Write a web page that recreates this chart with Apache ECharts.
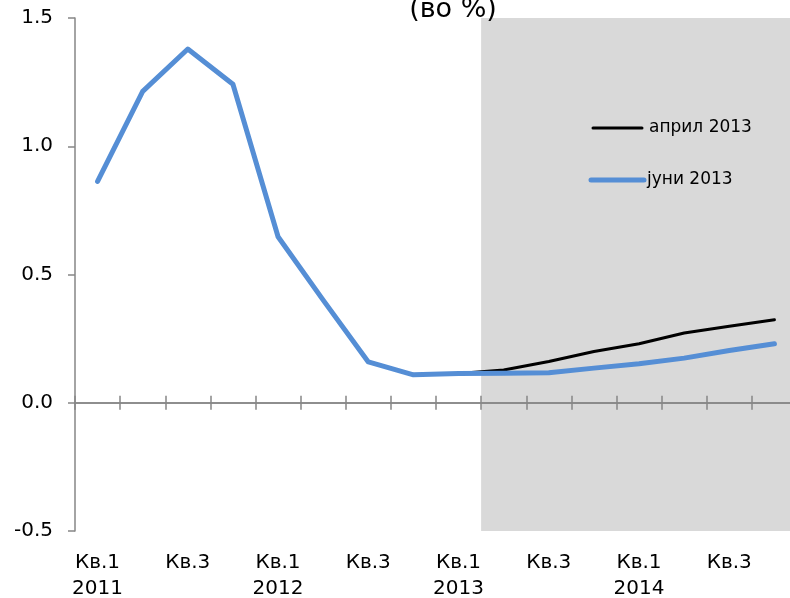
<!DOCTYPE html>
<html>
<head>
<meta charset="utf-8">
<script src="https://cdn.jsdelivr.net/npm/echarts@6/dist/echarts.min.js"></script>
<style>
  html, body { margin: 0; padding: 0; background: #fff; }
  #chart { width: 790px; height: 598px; }
</style>
</head>
<body>
<div id="chart"></div>
<script>
// Quarterly axis, 2011 Q1 .. 2014 Q4
const quarterLabels = [
  'Кв.1\n2011', 'Кв.2', 'Кв.3', 'Кв.4',
  'Кв.1\n2012', 'Кв.2', 'Кв.3', 'Кв.4',
  'Кв.1\n2013', 'Кв.2', 'Кв.3', 'Кв.4',
  'Кв.1\n2014', 'Кв.2', 'Кв.3', 'Кв.4'
];

// Projection rounds (%)
const april2013 = [0.863, 1.214, 1.379, 1.242, 0.647, 0.40, 0.159, 0.109,
                   0.114, 0.128, 0.161, 0.200, 0.230, 0.272, 0.298, 0.324];
const june2013  = [0.863, 1.214, 1.379, 1.242, 0.647, 0.40, 0.159, 0.109,
                   0.114, 0.115, 0.117, 0.135, 0.152, 0.174, 0.204, 0.230];

const seriesNames = ['април 2013', 'јуни 2013'];
const yTicks = { min: -0.5, max: 1.5, step: 0.5 };

// First projected quarter (shaded to the end of the axis)
const forecastFrom = 9;

const FONT = 'DejaVu Sans';
const AXIS_GREY = '#868686';
const BLUE = '#558ED5';
const BLACK = '#000000';

const chart = echarts.init(document.getElementById('chart'), null, { renderer: 'canvas' });

const baseCat = {
  type: 'category',
  data: quarterLabels,
  boundaryGap: true,
  gridIndex: 0
};

const tickStyle = { color: AXIS_GREY, width: 1.5 };

// Legend keys drawn as short line samples with their labels
function legendItem(name, color, width, x0, x1, y, tx) {
  return [
    {
      type: 'line',
      z: 10,
      shape: { x1: x0, y1: y, x2: x1, y2: y },
      style: { stroke: color, lineWidth: width, lineCap: 'round' }
    },
    {
      type: 'text',
      z: 10,
      x: tx,
      y: y,
      style: {
        text: name,
        fontFamily: FONT,
        fontSize: 17,
        fill: '#000',
        align: 'left',
        verticalAlign: 'middle'
      }
    }
  ];
}

chart.setOption({
  animation: false,
  backgroundColor: '#fff',
  grid: {
    left: 75, top: 18, width: 722, height: 513,
    containLabel: false,
    outerBoundsMode: 'none'
  },
  xAxis: [
    Object.assign({}, baseCat, {
      position: 'bottom',
      axisLine: { show: false, onZero: false },
      axisTick: { show: false },
      axisLabel: {
        interval: 1,
        margin: 19,
        fontFamily: FONT,
        fontSize: 20,
        lineHeight: 26,
        color: '#000'
      }
    }),
    Object.assign({}, baseCat, {
      position: 'bottom',
      z: 5,
      axisLine: { show: true, onZero: true, onZeroAxisIndex: 0, lineStyle: tickStyle },
      axisTick: { show: true, inside: true, interval: 0, length: 7, lineStyle: tickStyle },
      axisLabel: { show: false }
    }),
    Object.assign({}, baseCat, {
      position: 'bottom',
      z: 5,
      axisLine: { show: true, onZero: true, onZeroAxisIndex: 0, lineStyle: tickStyle },
      axisTick: { show: true, inside: false, interval: 0, length: 7, lineStyle: tickStyle },
      axisLabel: { show: false }
    }),
    {
      type: 'value',
      gridIndex: 0,
      min: 0,
      max: quarterLabels.length,
      show: false
    }
  ],
  yAxis: {
    type: 'value',
    z: 5,
    min: yTicks.min,
    max: yTicks.max,
    interval: yTicks.step,
    axisLine: { show: true, onZero: false, lineStyle: tickStyle },
    axisTick: { show: true, inside: false, length: 7, lineStyle: tickStyle },
    splitLine: { show: false },
    axisLabel: {
      margin: 22,
      fontFamily: FONT,
      fontSize: 20,
      color: '#000',
      formatter: v => v.toFixed(1)
    }
  },
  graphic: [
    {
      type: 'text',
      x: 453,
      y: 23,
      z: 10,
      style: {
        text: '(во %)',
        fontFamily: FONT,
        fontSize: 27,
        fill: '#000',
        align: 'center',
        verticalAlign: 'bottom'
      }
    }
  ].concat(
    legendItem(seriesNames[0], BLACK, 3, 593, 642, 128, 649),
    legendItem(seriesNames[1], BLUE, 5, 591, 644, 180, 647)
  ),
  series: [
    {
      // projection period band
      type: 'line',
      xAxisIndex: 3,
      yAxisIndex: 0,
      data: [],
      silent: true,
      z: 0,
      markArea: {
        silent: true,
        itemStyle: { color: '#D9D9D9' },
        data: [[
          { xAxis: forecastFrom, yAxis: yTicks.min },
          { xAxis: quarterLabels.length, yAxis: yTicks.max }
        ]]
      }
    },
    {
      name: seriesNames[0],
      type: 'line',
      xAxisIndex: 0,
      data: april2013,
      symbol: 'none',
      z: 6,
      color: BLACK,
      lineStyle: { color: BLACK, width: 3, cap: 'round', join: 'round' }
    },
    {
      name: seriesNames[1],
      type: 'line',
      xAxisIndex: 0,
      data: june2013,
      symbol: 'none',
      z: 7,
      color: BLUE,
      lineStyle: { color: BLUE, width: 5, cap: 'round', join: 'round' }
    }
  ]
});
</script>
</body>
</html>
